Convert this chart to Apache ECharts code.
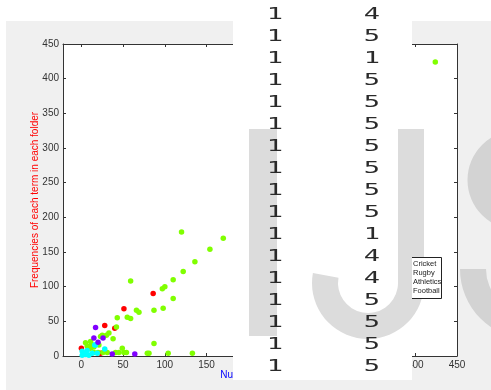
<!DOCTYPE html>
<html>
<head>
<meta charset="utf-8">
<script src="https://cdn.jsdelivr.net/npm/echarts@6/dist/echarts.min.js"></script>
<style>html,body{margin:0;padding:0;background:#fff}#c{width:491px;height:390px}</style>
</head>
<body>
<div id="c"></div>
<script>
// ---- data ----
const seriesNames = ['Cricket', 'Rugby', 'Athletics', 'Football'];
const seriesColors = ['#ff0000', '#80ff00', '#00ffff', '#8000ff'];
const cricket = [[86,90],[51,68],[28,44],[40,40],[0,11],[23,4]];
const rugby = [[424,424],[120,179],[170,170],[154,154],[136,136],[122,122],[110,110],[59,108],
  [100,100],[97,97],[110,83],[98,69],[87,66],[66,66],[69,63],[55,56],[59,54],[43,55],[42,42],
  [33,33],[30,30],[23,28],[25,30],[38,25],[87,18],[49,11],[11,21],[12,17],[15,13],[11,11],[21,16],
  [5,19],[7,14],[26,5],[31,5],[41,5],[45,5],[51,5],[54,5],[79,4],[81,4],[104,4],[133,4],[15,5],[20,5],[5,4]];
const athletics = [[17,16],[28,10],[7,8],[3,4],[1,1],[9,1],[13,4],[16,16],[19,4],[1,7],[5,2]];
const football = [[17,41],[15,26],[26,26],[20,20],[37,3],[64,3]];
const xTicks = [0,50,100,150,200,250,300,350,400,450];
const colA = [1,1,1,1,1,1,1,1,1,1,1,1,1,1,1,1,1];
const colB = [4,5,1,5,5,5,5,5,5,5,1,4,4,5,5,5,5];

const chart = echarts.init(document.getElementById('c'), null, {renderer: 'canvas'});
const FONT = 'Liberation Sans, Arial, sans-serif';
const AX = '#333';
const TOP = 1; // overlay layer

const graphics = [
  {type: 'rect', zlevel: 0, z: -5, shape: {x: 6, y: 21, width: 485, height: 369}, style: {fill: '#f0f0f0'}},
  // S (right, behind)
  {type: 'sector', zlevel: 0, z: -4, shape: {cx: 517, cy: 180, r: 49.5, r0: 18, startAngle: Math.PI/2, endAngle: Math.PI*1.5, clockwise: true}, style: {fill: '#d3d3d3'}},
  {type: 'sector', zlevel: 0, z: -4, shape: {cx: 530, cy: 269, r: 70, r0: 44, startAngle: 0, endAngle: Math.PI, clockwise: true}, style: {fill: '#d3d3d3'}},
  // white panel
  {type: 'rect', zlevel: TOP, z: 30, shape: {x: 233, y: 0, width: 179, height: 380}, style: {fill: '#fff'}},
  // J
  {type: 'rect', zlevel: TOP, z: 31, shape: {x: 249, y: 129, width: 28, height: 207}, style: {fill: '#dcdcdc'}},
  {type: 'rect', zlevel: TOP, z: 31, shape: {x: 398, y: 129, width: 26, height: 155}, style: {fill: '#dcdcdc'}},
  {type: 'sector', zlevel: TOP, z: 31, shape: {cx: 368, cy: 283, r: 56, r0: 30, startAngle: 0, endAngle: Math.PI + 0.18, clockwise: true}, style: {fill: '#dcdcdc'}},
  // legend box
  {type: 'rect', zlevel: TOP, z: 35, shape: {x: 412, y: 257.5, width: 29.5, height: 41}, style: {fill: '#fff'}},
  {type: 'polyline', zlevel: TOP, z: 36, shape: {points: [[412,257.5],[441.5,257.5],[441.5,298.5],[412,298.5]]}, style: {stroke: '#222', lineWidth: 1, fill: null}}
];
colA.forEach((v, i) => {
  graphics.push({type: 'text', zlevel: TOP, z: 33, x: 275, y: 15 + 22 * i, scaleX: 1.8,
    style: {text: String(v), font: '15px "DejaVu Sans Mono", monospace', fill: '#2a2a2a', align: 'center', verticalAlign: 'middle'}});
});
colB.forEach((v, i) => {
  graphics.push({type: 'text', zlevel: TOP, z: 33, x: 372, y: 15 + 22 * i, scaleX: 1.8,
    style: {text: String(v), font: '15px "DejaVu Sans Mono", monospace', fill: '#2a2a2a', align: 'center', verticalAlign: 'middle'}});
});

const dataSets = [cricket, rugby, athletics, football];
const option = {
  animation: false,
  backgroundColor: '#fff',
  grid: {left: 63, right: 34, top: 44, bottom: 34, show: true, backgroundColor: '#fff', borderWidth: 0},
  legend: {
    zlevel: TOP, z: 40, orient: 'vertical', left: 408, top: 257, padding: [2, 0, 2, 0],
    itemWidth: 0, itemHeight: 9, itemGap: 0.7, icon: 'none',
    data: seriesNames,
    textStyle: {fontFamily: FONT, fontSize: 7.5, color: '#222'}
  },
  xAxis: [{
    type: 'value', min: -22, max: 450, position: 'bottom',
    name: 'Number of folders', nameLocation: 'middle', nameGap: 14, nameMoveOverlap: false,
    nameTextStyle: {color: '#0000ff', fontFamily: FONT, fontSize: 10},
    axisLine: {show: true, onZero: false, lineStyle: {color: AX, width: 1}},
    axisTick: {show: true, inside: true, length: 3, customValues: xTicks, lineStyle: {color: AX}},
    axisLabel: {customValues: xTicks, color: '#333', fontFamily: FONT, fontSize: 10, margin: 4},
    splitLine: {show: false}
  }, {
    type: 'value', min: -22, max: 450, position: 'top',
    axisLine: {show: true, onZero: false, lineStyle: {color: AX, width: 1}},
    axisTick: {show: true, inside: true, length: 3, customValues: xTicks, lineStyle: {color: AX}},
    axisLabel: {show: false}, splitLine: {show: false}
  }],
  yAxis: [{
    type: 'value', min: 0, max: 450, interval: 50, position: 'left',
    name: 'Frequencies of each term in each folder', nameLocation: 'middle', nameGap: 23, nameMoveOverlap: false,
    nameTextStyle: {color: '#ff0000', fontFamily: FONT, fontSize: 10},
    axisLine: {show: true, onZero: false, lineStyle: {color: AX, width: 1}},
    axisTick: {show: true, inside: true, length: 3, lineStyle: {color: AX}},
    axisLabel: {color: '#333', fontFamily: FONT, fontSize: 10, margin: 4},
    splitLine: {show: false}
  }, {
    type: 'value', min: 0, max: 450, interval: 50, position: 'right',
    axisLine: {show: true, onZero: false, lineStyle: {color: AX, width: 1}},
    axisTick: {show: true, inside: true, length: 3, lineStyle: {color: AX}},
    axisLabel: {show: false}, splitLine: {show: false}
  }],
  series: seriesNames.map((n, i) => ({
    name: n, type: 'scatter', xAxisIndex: 0, yAxisIndex: 0,
    symbol: 'circle', symbolSize: 5.5,
    itemStyle: {color: seriesColors[i], opacity: 1},
    data: dataSets[i]
  })),
  graphic: {elements: graphics}
};
chart.setOption(option);
</script>
</body>
</html>
